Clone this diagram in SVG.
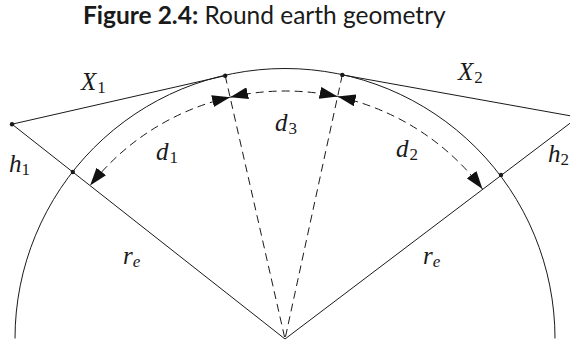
<svg xmlns="http://www.w3.org/2000/svg" width="570" height="345" viewBox="0 0 570 345">
<style>
.ln{fill:none;stroke:#1a1a1a;stroke-width:1}
.ds{fill:none;stroke:#1a1a1a;stroke-width:1;stroke-dasharray:8 5}
.dot{fill:#1a1a1a}
.m{font-family:'Liberation Serif','Times New Roman',serif;font-style:italic;font-size:25px;fill:#1a1a1a}
.s{font-style:normal;font-size:17px}
.si{font-style:italic;font-size:17px}
.t{font-family:Lato,'Liberation Sans',sans-serif;font-size:24.5px;fill:#1a1a1a}
</style>
<defs>
<marker id="ah" markerUnits="userSpaceOnUse" markerWidth="18" markerHeight="12" refX="18" refY="6" orient="auto-start-reverse" viewBox="0 0 18 12">
<path d="M0,0 L18,6 L0,12 Z" fill="#111"/>
</marker>
</defs>
<text class="t" x="83" y="24"><tspan font-weight="bold">Figure 2.4:</tspan> Round earth geometry</text>
<g id="earth">
<path class="ln" d="M15,338.5 A270,270 0 0 1 555,338.5"/>
</g>
<g id="connectors">
<path class="ln" d="M285,339 L12,124.2 L225.2,75.7"/>
<path class="ln" d="M285,339 L578,117.2 L342.3,74.9"/>
<path class="ds" d="M225.2,75.7 L285,339"/>
<path class="ds" d="M342.3,74.9 L285,339"/>
<path class="ds" marker-start="url(#ah)" marker-end="url(#ah)" d="M230.1,97.2 A248,248 0 0 0 90.1,185.6"/>
<path class="ds" marker-start="url(#ah)" marker-end="url(#ah)" d="M230.1,97.2 A248,248 0 0 1 337.6,96.6"/>
<path class="ds" marker-start="url(#ah)" marker-end="url(#ah)" d="M337.6,96.6 A248,248 0 0 1 482.5,189"/>
</g>
<g id="points">
<circle class="dot" cx="12" cy="124.2" r="2.2"/>
<circle class="dot" cx="72.8" cy="172" r="2.2"/>
<circle class="dot" cx="225.2" cy="75.7" r="2.2"/>
<circle class="dot" cx="342.3" cy="74.9" r="2.2"/>
<circle class="dot" cx="501" cy="175" r="2.2"/>
</g>
<g id="labels">
<text class="m" x="81" y="90">X<tspan class="s" dx="1" dy="3">1</tspan></text>
<text class="m" x="458" y="80">X<tspan class="s" dx="1" dy="3">2</tspan></text>
<text class="m" x="9" y="172">h<tspan class="s" dy="3">1</tspan></text>
<text class="m" x="548" y="162">h<tspan class="s" dy="3">2</tspan></text>
<text class="m" x="156" y="160">d<tspan class="s" dx="1" dy="3">1</tspan></text>
<text class="m" x="396" y="157">d<tspan class="s" dx="1" dy="3">2</tspan></text>
<text class="m" x="275" y="131">d<tspan class="s" dx="1" dy="3">3</tspan></text>
<text class="m" x="123" y="264">r<tspan class="si" dy="3">e</tspan></text>
<text class="m" x="423" y="264">r<tspan class="si" dy="3">e</tspan></text>
</g>
</svg>
